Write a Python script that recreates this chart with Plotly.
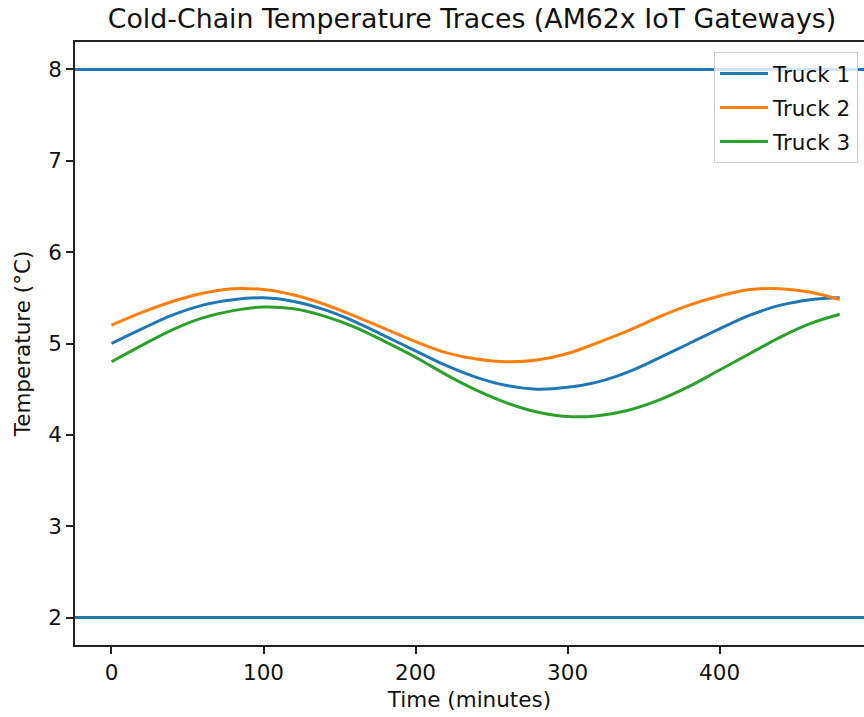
import plotly.graph_objects as go

# Time (minutes)
minutes = [0, 20, 40, 60, 80, 100, 120, 140, 160, 180, 200, 220, 240,
           260, 280, 300, 320, 340, 360, 380, 400, 420, 440, 460, 479]

truck1 = [5.00, 5.16, 5.31, 5.42, 5.48, 5.50, 5.46, 5.37, 5.24, 5.08, 4.92, 4.76, 4.63,
          4.54, 4.50, 4.52, 4.58, 4.69, 4.84, 5.00, 5.16, 5.31, 5.42, 5.48, 5.50]
truck2 = [5.20, 5.34, 5.46, 5.55, 5.60, 5.59, 5.53, 5.43, 5.30, 5.16, 5.02, 4.90, 4.83,
          4.80, 4.82, 4.89, 5.01, 5.14, 5.29, 5.42, 5.52, 5.59, 5.60, 5.56, 5.48]
truck3 = [4.80, 4.98, 5.15, 5.28, 5.36, 5.40, 5.38, 5.30, 5.18, 5.02, 4.85, 4.66, 4.49,
          4.35, 4.25, 4.20, 4.21, 4.27, 4.38, 4.53, 4.71, 4.89, 5.07, 5.22, 5.32]

series_names = ["Truck 1", "Truck 2", "Truck 3"]
series_values = [truck1, truck2, truck3]
colors = ["#1f77b4", "#ff7f0e", "#2ca02c"]

limit_upper = 8
limit_lower = 2

x_ticks = [0, 100, 200, 300, 400]
y_ticks = [2, 3, 4, 5, 6, 7, 8]

FONT = "DejaVu Sans"
TXT = 21.5

fig = go.Figure()
for name, vals, col in zip(series_names, series_values, colors):
    fig.add_trace(go.Scatter(
        x=minutes, y=vals, mode="lines", name=name, legendgroup=name,
        line=dict(color=col, width=3, shape="spline", smoothing=1.0),
    ))

for lim in (limit_upper, limit_lower):
    fig.add_shape(type="line", xref="paper", x0=0, x1=1, yref="y", y0=lim, y1=lim,
                  line=dict(color="#1f77b4", width=3), layer="above")

fig.update_layout(
    width=864, height=717,
    margin=dict(l=75, r=0, t=42, b=72, pad=0),
    paper_bgcolor="white", plot_bgcolor="white",
    font=dict(family=FONT, size=TXT, color="#111111"),
    title=dict(text="Cold-Chain Temperature Traces (AM62x IoT Gateways)",
               font=dict(family=FONT, size=26.8, color="#111111"),
               x=(472 - 75) / 789, xref="paper", xanchor="center",
               y=1 - 19 / 717, yref="container", yanchor="middle"),
    xaxis=dict(range=[-24, 495], tickvals=x_ticks, ticks="outside", ticklen=7,
               tickwidth=1.5, tickcolor="#222", showline=True, linecolor="#222",
               linewidth=1.5, mirror=True, showgrid=False, zeroline=False,
               tickfont=dict(size=TXT),
               title=dict(text="Time (minutes)", standoff=8, font=dict(size=TXT))),
    yaxis=dict(range=[1.7, 8.3], tickvals=y_ticks, ticks="outside", ticklen=7,
               tickwidth=1.5, tickcolor="#222", showline=True, linecolor="#222",
               linewidth=1.5, showgrid=False, zeroline=False,
               tickfont=dict(size=TXT),
               title=dict(text="Temperature (°C)", standoff=12, font=dict(size=TXT))),
    legend=dict(x=(858 - 75) / 789, xanchor="right", y=(645 - 52) / 603, yanchor="top",
                bgcolor="rgba(255,255,255,0.8)", bordercolor="#cccccc", borderwidth=1,
                font=dict(size=TXT), tracegroupgap=3, itemwidth=48),
    showlegend=True,
)

fig.write_html("out.html")
